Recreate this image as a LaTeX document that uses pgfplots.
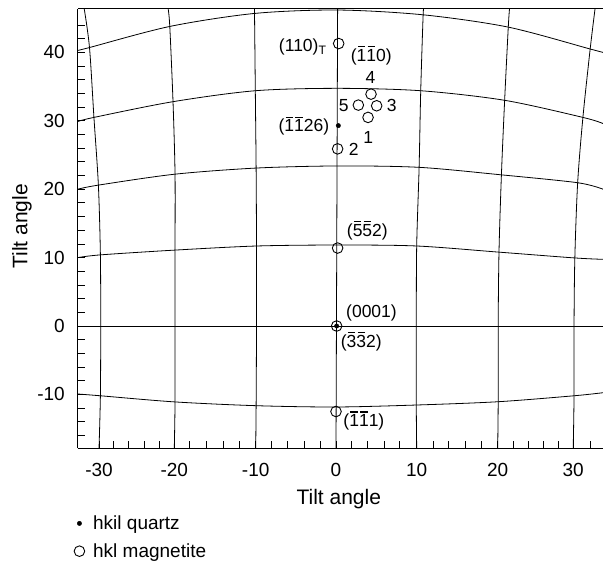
\documentclass[border=0pt]{standalone}
\usepackage{pgfplots}
\pgfplotsset{compat=1.18}
\usepackage{fontspec}
\setmainfont{Liberation Sans}
% digit with an overbar
\newcommand{\ob}[1]{\ooalign{#1\cr\hidewidth\rule[0.8em]{0.42em}{0.065em}\hidewidth\cr}}
\pgfplotsset{dotlegend/.style={legend image code/.code={%
  \path[draw=none, fill=none] (-6bp,0bp) rectangle (6bp,0.1bp);
  \draw[##1] plot coordinates {(0bp,0bp)};}}}

\begin{document}
\begin{tikzpicture}[font=\fontsize{17.5bp}{21bp}\selectfont]
\begin{axis}[
  scale only axis,
  width=525.2bp, height=439.3bp,
  xmin=-32.0, xmax=33.09,
  ymin=-17.88, ymax=46.35,
  axis x line*=box, axis y line*=left,
  axis line style={line width=1bp},
  tick pos=left,
  tick align=inside,
  major tick length=7bp, minor tick length=7bp,
  every tick/.style={line width=0.8bp, black},
  xtick={-29.37,-20.04,-9.95,0,10.0,20.04,29.4},
  xticklabels={-30,-20,-10,0,10,20,30},
  minor xtick={-27.6,-25.7,-23.8,-21.9,-18.2,-16.1,-14.0,-12.0,-7.97,-6.0,-3.9,-1.98,
               1.95,3.93,5.95,7.84,12.06,13.9,16.0,18.05,21.97,23.83,25.7,27.55,31.5},
  ytick={-10,0,10,20,30,40},
  yticklabels={-10,0,10,20,30,40},
  minor ytick={-16,-14,...,44},
  tick label style={font=\fontsize{19bp}{23bp}\selectfont},
  xticklabel style={inner sep=0pt, yshift=-14.7bp},
  yticklabel style={inner sep=0pt, xshift=-12.8bp},
  label style={font=\fontsize{21bp}{25bp}\selectfont},
  xlabel={Tilt angle},
  xlabel style={at={(axis description cs:0.497,-0.0926)}, anchor=north, inner sep=0pt},
  ylabel={Tilt angle},
  ylabel style={at={(axis description cs:-0.1253,0.505)}, anchor=north, inner sep=0pt},
  legend style={at={(axis description cs:-0.0087,-0.1486)}, anchor=north west,
    draw=none, fill=none, row sep=8.5bp, column sep=5.75bp, inner sep=0pt,
    nodes={inner sep=2bp}, font=\fontsize{19bp}{23bp}\selectfont},
  legend cell align=left,
  gridline/.style={black, line width=0.8bp, smooth, tension=0.5, forget plot},
]
% curves of constant tilt (horizontal family)
\addplot[gridline] coordinates {(-32.0,40.3) (-30.6,40.7) (-20.6,43.8) (-10.1,45.7) (0.2,46.2) (10.8,45.5) (21.35,43.7) (31.5,40.5) (33.1,40.0)};
\addplot[gridline] coordinates {(-32.0,29.9) (-30.0,30.5) (-20.2,32.8) (-10.0,34.4) (0.2,34.75) (10.5,34.4) (20.9,33.0) (30.6,30.5) (33.1,29.6)};
\addplot[gridline] coordinates {(-32.0,20.0) (-29.45,20.6) (-19.95,22.2) (-9.8,23.1) (0.2,23.4) (10.3,23.2) (20.5,22.1) (29.95,20.95) (33.1,20.0)};
\addplot[gridline] coordinates {(-32.0,10.0) (-29.2,10.4) (-19.95,11.1) (-9.8,11.7) (0.2,11.84) (10.0,11.7) (20.2,10.8) (29.6,9.95) (33.1,9.75)};
\addplot[gridline] coordinates {(-32.0,0) (33.1,0)};
\addplot[gridline] coordinates {(-32.0,-9.94) (-29.2,-10.2) (-19.95,-11.1) (-9.9,-11.65) (0,-11.84) (10,-11.55) (20.1,-11.07) (29.5,-10.2) (33.1,-9.75)};
% vertical family
\addplot[gridline] coordinates {(-29.37,-17.88) (-29.2,-10.2) (-29.16,0) (-29.2,10.4) (-29.45,20.6) (-30.0,30.5) (-30.55,40.7) (-31.2,46.35)};
\addplot[gridline] coordinates {(-20.04,-17.88) (-19.95,-11.1) (-19.95,0) (-19.95,11.1) (-19.95,22.2) (-20.2,32.8) (-20.6,43.8) (-20.8,46.35)};
\addplot[gridline] coordinates {(-9.95,-17.88) (-9.9,-11.65) (-9.85,0) (-9.85,11.7) (-9.9,23.1) (-10.0,34.4) (-10.1,45.7) (-10.15,46.35)};
\addplot[gridline] coordinates {(0,-17.88) (0.2,46.35)};
\addplot[gridline] coordinates {(10.0,-17.88) (9.95,-11.55) (9.95,0) (10.0,11.7) (10.3,23.2) (10.5,34.4) (10.8,45.5) (10.9,46.35)};
\addplot[gridline] coordinates {(20.04,-17.88) (20.1,-11.07) (20.1,0) (20.2,10.8) (20.5,22.1) (20.9,33.0) (21.35,43.7) (21.5,46.35)};
\addplot[gridline] coordinates {(29.4,-17.88) (29.5,-10.2) (29.5,0) (29.6,9.95) (29.95,20.95) (30.6,30.5) (31.5,40.5) (32.1,46.35)};
% poles
\addplot[only marks, mark=*, mark size=2.2bp, black, dotlegend]
  coordinates {(0.29,29.3) (0.08,0)};
\addlegendentry{hkil quartz}
\addplot[only marks, mark=o, mark size=5.3bp, black, mark options={line width=0.9bp}, dotlegend]
  coordinates {(0.33,41.3) (4.34,33.9) (2.77,32.3) (5.04,32.2) (3.97,30.5)
               (0.2,25.9) (0.2,11.4) (0.08,0) (0,-12.5)};
\addlegendentry{hkl magnetite}
% labels
\node[anchor=base east, inner sep=0pt] at (axis cs:-1.15,40.1) {(110)\textsubscript{T}};
\node[anchor=base west, inner sep=0pt] at (axis cs:1.82,38.7) {(\ob{1}\ob{1}0)};
\node[anchor=base, inner sep=0pt] at (axis cs:4.27,35.4) {4};
\node[anchor=base, inner sep=0pt] at (axis cs:0.95,31.3) {5};
\node[anchor=base, inner sep=0pt] at (axis cs:6.9,31.4) {3};
\node[anchor=base, inner sep=0pt] at (axis cs:4.0,26.7) {1};
\node[anchor=base, inner sep=0pt] at (axis cs:2.2,24.9) {2};
\node[anchor=base east, inner sep=0pt] at (axis cs:-0.83,28.4) {(\ob{1}\ob{1}26)};
\node[anchor=base west, inner sep=0pt] at (axis cs:1.33,13.1) {(\ob{5}\ob{5}2)};
\node[anchor=base west, inner sep=0pt] at (axis cs:1.24,1.3) {(0001)};
\node[anchor=base west, inner sep=0pt] at (axis cs:0.58,-3.1) {(\ob{3}\ob{3}2)};
\node[anchor=base west, inner sep=0pt] at (axis cs:0.9,-14.7) {(\ob{1}\ob{1}1)};
\coordinate (sw) at (rel axis cs:0,0);
\coordinate (ne) at (rel axis cs:1,1);
\end{axis}
\pgfresetboundingbox
\path[use as bounding box] ([shift={(-77.8bp,-113.7bp)}]sw) rectangle ([shift={(0bp,9bp)}]ne);
\end{tikzpicture}
\end{document}
